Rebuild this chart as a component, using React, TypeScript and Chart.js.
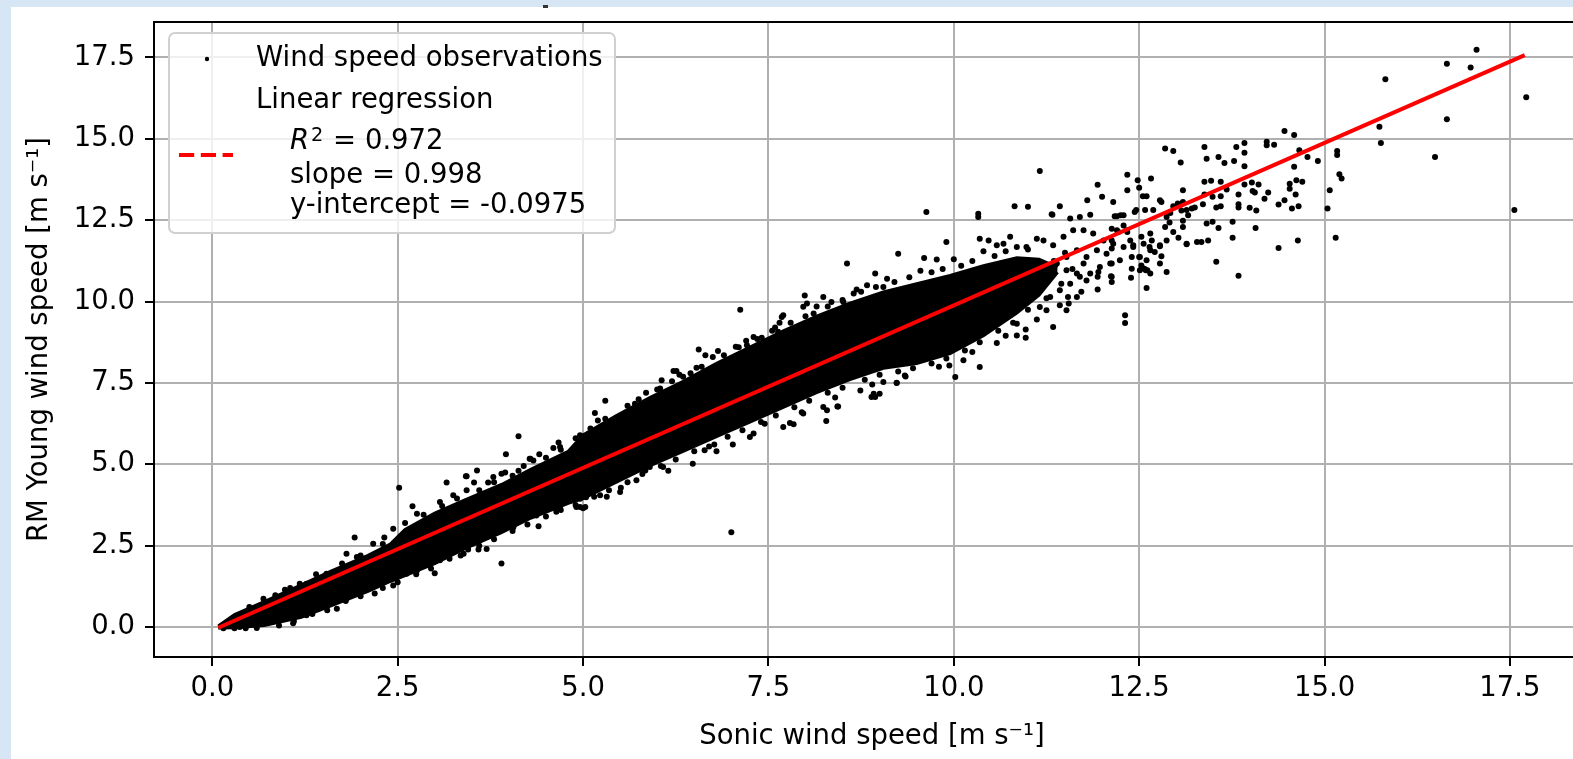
import React, { useEffect, useRef } from "react";
import { Chart, registerables } from "chart.js";

Chart.register(...registerables);

// ---------------- data ----------------
const xTicks = [0, 2.5, 5, 7.5, 10, 12.5, 15, 17.5];
const yTicks = [0, 2.5, 5, 7.5, 10, 12.5, 15, 17.5];

// dense core of the observation cloud (upper / lower envelope)
const bandX = [0.08, 0.3, 0.7, 1.2, 1.6, 2.1, 2.4, 2.6, 3.0, 3.4, 3.9, 4.3, 4.8, 5.0, 5.45, 5.9, 6.35, 6.8, 7.25, 7.7, 8.15, 8.6, 9.05, 9.5, 9.95, 10.4, 10.85, 11.15, 11.4];
const bandUpper = [0.03, 0.38, 0.78, 1.3, 1.72, 2.2, 2.55, 3.0, 3.5, 3.9, 4.38, 4.85, 5.4, 5.9, 6.5, 7.05, 7.55, 8.1, 8.6, 9.1, 9.55, 9.95, 10.3, 10.55, 10.8, 11.1, 11.35, 11.3, 11.05];
const bandLower = [-0.03, -0.02, 0.05, 0.3, 0.65, 1.1, 1.4, 1.58, 1.95, 2.4, 2.9, 3.35, 3.8, 3.95, 4.45, 4.95, 5.4, 5.85, 6.3, 6.75, 7.2, 7.6, 7.95, 8.1, 8.4, 8.95, 9.65, 10.2, 10.9];

// observations just outside the dense core (upper and lower fringe)
const fringeX = [
  0.5, 0.85, 1.05, 1.4, 1.75, 2.0, 2.3, 2.6, 2.85, 3.1, 3.3, 3.6, 3.8, 4.05, 4.2, 4.5, 4.7, 4.9, 5.1, 5.3, 5.6, 5.75, 6.0,
  6.2, 6.45, 6.6, 6.9, 7.1, 7.35, 7.55, 7.8, 8.0, 8.3, 8.5, 8.75, 8.95, 9.2, 9.4, 9.7, 9.85, 10.1, 10.25, 10.55, 10.7, 11.0,
  0.9, 1.1, 1.35, 1.55, 1.8, 2.0, 2.3, 2.5, 2.75, 2.95, 3.2, 3.35, 3.6, 3.8, 4.05, 4.25, 4.5, 4.7, 4.9, 5.15, 5.35, 5.6, 5.8,
  6.05, 6.25, 6.5, 6.7, 6.95, 7.15, 7.4, 7.6, 7.85, 8.05, 8.3, 8.5, 8.8, 9.0, 9.25, 9.45, 9.7, 9.9, 10.15, 10.35, 10.6, 10.8, 11.0,
  3.25, 3.95, 4.6, 5.2, 5.85, 6.3, 6.75, 7.2, 7.65, 8.15, 8.65, 9.1, 9.55, 10.0, 10.4,
  3.0, 3.7, 4.4, 5.0, 5.5, 6.15, 6.8, 7.3, 7.95, 8.4, 8.9, 9.35, 9.8, 10.25, 10.7,
  11.2, 11.35, 11.45, 11.6, 11.5, 11.25
];
const fringeY = [
  0.62, 0.98, 1.2, 1.62, 1.95, 2.2, 2.55, 3.2, 3.45, 3.72, 3.95, 4.2, 4.45, 4.65, 4.95, 5.2, 5.45, 5.8, 6.1, 6.4, 6.8, 7.0, 7.3,
  7.55, 7.8, 8.0, 8.35, 8.6, 8.85, 9.1, 9.35, 9.55, 9.85, 10.05, 10.3, 10.45, 10.6, 10.75, 10.9, 11.0, 11.1, 11.25, 11.4, 11.55, 11.6,
  0.05, 0.18, 0.4, 0.52, 0.8, 0.95, 1.2, 1.38, 1.62, 1.8, 2.1, 2.2, 2.5, 2.7, 2.95, 3.15, 3.4, 3.6, 3.75, 4.0, 4.2, 4.45, 4.7,
  4.95, 5.15, 5.4, 5.55, 5.85, 6.05, 6.3, 6.5, 6.75, 6.95, 7.2, 7.35, 7.6, 7.75, 7.85, 7.95, 8.1, 8.25, 8.5, 8.75, 9.1, 9.35, 9.75,
  4.05, 4.75, 5.5, 6.35, 7.2, 7.75, 8.3, 8.8, 9.35, 9.85, 10.25, 10.7, 10.95, 11.3, 11.55,
  1.65, 2.4, 3.1, 3.65, 4.15, 4.8, 5.4, 5.95, 6.6, 7.05, 7.45, 7.7, 8.0, 8.45, 8.95,
  10.75, 11.25, 10.55, 11.0, 11.5, 10.1
];

// individual scattered observations
const obsX = [
  17.05, 16.65, 16.97, 15.82, 17.72, 16.65, 15.74, 15.76, 16.49, 17.56, 14.46, 14.59, 15.17, 15.17, 15.20, 15.23, 15.07, 15.04, 15.15, 14.91,
  14.77, 14.66, 14.59, 14.53, 14.53, 14.62, 14.70, 14.61, 14.65, 14.56, 14.46, 14.38, 14.64, 14.38, 14.22, 14.22, 14.32, 13.92, 13.92, 13.92,
  13.81, 13.78, 13.65, 13.57, 13.38, 13.41, 12.85, 12.96, 13.06, 12.66, 12.34, 12.48, 12.50, 11.94, 12.00, 11.80, 11.43, 11.33, 12.34, 12.15,
  12.55, 12.60, 13.09, 13.38, 13.47, 13.60, 13.60, 13.49, 13.84, 13.92, 14.02, 14.11, 14.03, 14.06, 14.19, 14.24, 13.84, 13.84, 13.99, 14.08,
  13.68, 13.36, 13.38, 13.09, 13.07, 13.54, 13.60, 13.21, 13.16, 12.96, 13.02, 12.78, 12.80, 13.41, 13.49, 13.76, 13.76, 13.57, 14.07, 13.43,
  13.28, 13.34, 13.14, 13.03, 12.96, 12.85, 12.87, 12.91, 13.09, 13.09, 13.54, 13.84, 12.87, 12.60, 12.31, 12.31, 12.65, 12.67, 12.64, 12.78,
  12.71, 12.80, 12.60, 12.57, 12.61, 12.40, 12.39, 12.50, 12.53, 12.42, 12.38, 12.34, 12.46, 12.25, 12.17, 12.29, 12.13, 12.22, 12.13, 12.13,
  12.13, 12.13, 12.13, 11.94, 11.72, 11.54, 11.52, 11.66, 11.79, 11.94, 11.84, 11.70, 11.57, 11.16, 9.63, 10.33, 10.33, 10.82, 11.00, 11.32,
  12.20, 12.29, 12.44, 12.58, 12.69, 12.92, 13.14, 13.25, 13.14, 12.12, 11.95, 12.51, 12.53, 12.59, 12.40, 11.66, 11.55, 11.43, 11.34, 11.12,
  11.25, 10.85, 10.85, 10.97, 10.97, 10.58, 10.35, 10.02, 9.94, 10.13, 9.23, 9.34, 8.92, 8.89, 8.43, 8.28, 7.84, 8.56, 9.25, 9.60,
  9.77, 9.90, 8.94, 7.99, 8.02, 7.68, 8.11, 8.35, 8.51, 10.35, 10.47, 10.58, 10.67, 10.76, 10.85, 10.98, 11.12, 11.21, 11.34, 11.48,
  11.61, 11.75, 11.88, 12.02, 12.15, 12.29, 12.42, 12.56, 12.65, 12.78, 12.87, 10.40, 10.49, 10.62, 10.76, 10.85, 10.98, 11.07, 11.16, 11.30,
  11.43, 11.57, 11.70, 11.84, 11.97, 12.11, 12.24, 12.51, 12.65, 12.78, 10.67, 10.85, 11.07, 11.21, 11.39, 11.52, 11.66, 11.79, 11.93, 12.06,
  12.20, 12.33, 11.52, 11.75, 11.30, 7.12, 7.59, 7.63, 7.06, 7.21, 7.30, 7.41, 6.56, 6.65, 6.82, 6.22, 6.26, 6.53, 6.06, 5.30,
  5.16, 4.13, 3.96, 3.57, 3.43, 4.29, 4.41, 4.67, 7.79, 8.44, 8.24, 8.94, 9.05, 9.23, 7.02, 6.64, 6.77, 6.48, 5.90, 5.84,
  5.51, 5.03, 5.03, 7.45, 7.97, 5.70, 6.04, 6.35, 7.70, 7.97, 8.24, 8.69, 8.83, 9.05, 4.91, 5.32, 5.72, 6.08, 7.25, 7.70,
  8.29, 8.74, 9.00, 4.28, 3.42, 3.53, 3.16, 3.72, 3.90, 4.13, 2.52, 2.70, 1.92, 2.32, 1.81, 1.18, 0.98, 0.69, 3.90, 3.45,
  3.59, 1.09, 4.96, 4.64, 5.04, 2.19, 2.44, 1.68, 1.43, 1.27, 1.54, 1.81, 2.62, 2.98, 3.25, 0.87, 0.55, 0.37, 0.60, 2.76,
  3.07, 3.39, 3.70, 4.06, 4.37, 4.69, 4.96, 5.23, 0.42, 0.73, 1.00, 1.27, 1.54, 1.95, 2.17, 2.44, 2.76, 3.07, 3.43, 3.79,
  4.33, 4.69, 4.96, 0.15, 0.30, 0.45, 7.00
];
const obsY = [
  17.74, 17.31, 17.19, 16.83, 16.28, 15.60, 15.37, 14.87, 14.44, 12.81, 15.24, 15.12, 14.63, 14.50, 13.91, 13.78, 13.42, 12.86, 11.96, 14.32,
  14.44, 14.65, 14.14, 13.62, 13.47, 13.73, 13.68, 13.29, 12.93, 12.86, 13.11, 12.98, 11.88, 11.65, 14.91, 14.80, 14.82, 14.87, 14.57, 14.16,
  14.75, 14.32, 14.26, 14.44, 14.75, 14.39, 14.70, 14.63, 14.27, 13.78, 13.90, 13.73, 13.50, 13.59, 13.22, 13.11, 12.93, 12.67, 13.42, 13.06,
  13.24, 13.24, 13.42, 13.68, 13.71, 13.68, 13.24, 13.22, 13.29, 13.60, 13.66, 13.60, 13.40, 13.35, 13.16, 13.35, 12.99, 12.89, 12.88, 12.80,
  13.44, 12.99, 13.29, 13.06, 12.80, 12.89, 12.93, 12.86, 12.65, 12.93, 13.01, 13.11, 13.06, 12.40, 12.45, 12.45, 11.96, 12.26, 12.26, 11.88,
  11.83, 11.83, 11.76, 11.96, 12.14, 12.29, 12.60, 12.43, 12.29, 12.48, 11.22, 10.79, 10.91, 10.42, 9.58, 9.34, 12.09, 11.88, 11.68, 11.70,
  11.52, 11.39, 11.27, 11.01, 10.96, 11.01, 10.73, 11.37, 11.99, 11.68, 11.88, 12.14, 12.81, 12.65, 12.62, 12.34, 12.24, 12.14, 11.88, 11.63,
  11.17, 10.76, 10.60, 10.37, 10.30, 10.14, 9.73, 10.86, 10.65, 10.76, 12.67, 12.60, 12.55, 14.01, 12.75, 12.70, 12.60, 12.93, 12.91, 12.68,
  12.62, 12.65, 12.75, 12.81, 12.81, 12.72, 12.81, 12.89, 11.78, 10.78, 10.91, 11.37, 11.11, 10.96, 11.37, 10.14, 9.94, 9.89, 9.22, 9.45,
  9.73, 9.32, 8.96, 9.14, 8.89, 8.73, 7.99, 7.68, 8.04, 8.20, 7.51, 7.73, 7.17, 7.07, 6.78, 6.33, 6.23, 11.17, 11.47, 11.34,
  11.29, 11.83, 10.86, 10.19, 9.94, 9.53, 9.63, 9.99, 9.99, 11.93, 11.88, 11.73, 11.78, 11.99, 11.68, 11.68, 11.93, 11.88, 11.73, 11.99,
  12.19, 12.19, 12.09, 11.88, 11.78, 11.68, 11.73, 11.78, 11.58, 11.73, 11.88, 10.65, 10.14, 10.35, 9.94, 10.14, 10.45, 10.14, 9.83, 10.14,
  10.35, 10.55, 10.76, 10.86, 11.06, 11.17, 11.27, 10.96, 10.86, 11.17, 10.96, 10.96, 11.17, 10.96, 11.17, 11.37, 11.58, 11.37, 11.58, 11.47,
  12.19, 12.19, 10.96, 11.17, 10.76, 9.75, 9.20, 9.07, 8.61, 8.66, 8.91, 8.89, 8.53, 8.35, 8.48, 7.87, 7.87, 7.97, 7.58, 6.95,
  6.58, 5.86, 5.31, 4.81, 4.63, 5.17, 5.31, 5.67, 6.27, 6.78, 6.76, 7.07, 7.53, 7.50, 5.61, 5.43, 5.61, 5.02, 4.92, 4.81,
  4.28, 4.00, 3.69, 6.25, 6.56, 6.86, 7.33, 7.69, 9.58, 9.84, 10.14, 10.37, 10.50, 10.45, 3.69, 4.00, 4.51, 4.92, 5.84, 6.15,
  6.66, 7.27, 7.17, 5.17, 4.63, 4.44, 4.44, 4.44, 4.71, 4.80, 4.28, 3.71, 2.75, 2.75, 2.25, 1.33, 1.15, 0.87, 1.95, 2.38,
  2.38, 0.12, 3.69, 3.54, 3.99, 1.03, 1.28, 0.56, 0.56, 0.36, 0.82, 0.87, 1.64, 2.00, 2.30, 0.21, 0.10, 0.00, -0.03, 1.74,
  2.05, 2.25, 2.77, 3.07, 3.43, 3.69, 3.94, 4.05, 0.31, 0.67, 0.92, 1.33, 1.64, 2.15, 2.56, 3.02, 3.48, 3.84, 4.20, 4.61,
  5.12, 5.53, 5.89, -0.04, -0.04, -0.04, 2.91
];

// regression line end points
const regLineX = [0.08, 17.7];
const regLineY = [-0.02, 17.57];

const xAxisTitle = "Sonic wind speed [m s\u207B\u00B9]";
const yAxisTitle = "RM Young wind speed [m s\u207B\u00B9]";
const legendObsLabel = "Wind speed observations";
const legendRegLabel = "Linear regression";
const legendR2Value = " = 0.972";
const legendSlopeLine = "slope = 0.998";
const legendInterceptLine = "y-intercept = -0.0975";

// ---------------- helpers ----------------
const FONT = '"DejaVu Sans"';
const FS = 27.5;

const frameAndLegend = {
  id: "frameAndLegend",
  afterDraw(chart: any) {
    const { ctx, chartArea } = chart;
    ctx.save();
    // top / right spines
    ctx.strokeStyle = "#000";
    ctx.lineWidth = 2;
    ctx.beginPath();
    ctx.moveTo(chartArea.left - 1, chartArea.top);
    ctx.lineTo(chartArea.right + 1, chartArea.top);
    ctx.stroke();
    ctx.beginPath();
    ctx.moveTo(chartArea.right, chartArea.top);
    ctx.lineTo(chartArea.right, chartArea.bottom);
    ctx.stroke();

    // legend box
    const bx = chartArea.left + 15;
    const by = chartArea.top + 11;
    const bw = 446;
    const bh = 200;
    ctx.beginPath();
    (ctx as any).roundRect(bx, by, bw, bh, 6);
    ctx.fillStyle = "rgba(255,255,255,0.8)";
    ctx.fill();
    ctx.strokeStyle = "#d0d0d0";
    ctx.lineWidth = 2;
    ctx.stroke();

    // marker handle
    ctx.fillStyle = "#000";
    ctx.beginPath();
    ctx.arc(bx + 38, by + 26, 2.2, 0, Math.PI * 2);
    ctx.fill();

    // dashed line handle
    ctx.strokeStyle = "#ff0000";
    ctx.lineWidth = 4;
    ctx.setLineDash([15.2, 6.6]);
    ctx.beginPath();
    ctx.moveTo(bx + 10, by + 122);
    ctx.lineTo(bx + 64, by + 122);
    ctx.stroke();
    ctx.setLineDash([]);

    // texts
    ctx.fillStyle = "#000";
    ctx.textBaseline = "alphabetic";
    ctx.textAlign = "left";
    ctx.font = `${FS}px ${FONT}`;
    const tx = bx + 87;
    ctx.fillText(legendObsLabel, tx, by + 32.7);
    ctx.fillText(legendRegLabel, tx, by + 75.3);
    const ix = tx + 34;
    ctx.font = `italic ${FS}px ${FONT}`;
    ctx.fillText("R", ix, by + 116.3);
    const rw = ctx.measureText("R").width;
    ctx.font = `${FS * 0.7}px ${FONT}`;
    ctx.fillText("2", ix + rw + 2, by + 107.5);
    const sw = ctx.measureText("2").width;
    ctx.font = `${FS}px ${FONT}`;
    ctx.fillText(legendR2Value, ix + rw + 2 + sw + 1, by + 116.3);
    ctx.fillText(legendSlopeLine, ix, by + 150.3);
    ctx.fillText(legendInterceptLine, ix, by + 180.3);
    ctx.restore();
  },
};

export default function App() {
  const ref = useRef<HTMLCanvasElement>(null);
  useEffect(() => {
    document.body.style.margin = "0";
    const canvas = ref.current!;
    const band = (ys: number[]) => bandX.map((x, i) => ({ x, y: ys[i] }));
    const dotStyle = {
      pointRadius: 3,
      pointBorderWidth: 0,
      backgroundColor: "#000",
      borderColor: "#000",
    };
    const chart = new Chart(canvas, {
      type: "scatter",
      data: {
        datasets: [
          {
            label: "Linear regression",
            data: regLineX.map((x, i) => ({ x, y: regLineY[i] })),
            showLine: true,
            borderColor: "#ff0000",
            borderWidth: 4,
            pointRadius: 0,
            fill: false,
          } as any,
          {
            label: "Wind speed observations",
            data: obsX.map((x, i) => ({ x, y: obsY[i] })),
            ...dotStyle,
          },
          {
            label: "fringe",
            data: fringeX.map((x, i) => ({ x, y: fringeY[i] })),
            ...dotStyle,
          },
          {
            label: "core-upper",
            data: band(bandUpper),
            showLine: true,
            borderColor: "#000",
            borderWidth: 3,
            backgroundColor: "#000",
            pointRadius: 0,
            fill: "+1",
          } as any,
          {
            label: "core-lower",
            data: band(bandLower),
            showLine: true,
            borderColor: "#000",
            borderWidth: 3,
            pointRadius: 0,
            fill: false,
          } as any,
        ],
      },
      options: {
        responsive: false,
        animation: false,
        devicePixelRatio: 1,
        events: [],
        layout: { padding: { top: 15, right: 21, bottom: 0, left: 0 } },
        plugins: { legend: { display: false }, tooltip: { enabled: false } },
        scales: {
          x: {
            type: "linear",
            min: -0.786,
            max: 18.58,
            afterBuildTicks: (s: any) => {
              s.ticks = xTicks.map((v) => ({ value: v }));
            },
            afterFit: (s: any) => {
              s.height = 102;
              s.paddingLeft = 0;
              s.paddingRight = 0;
            },
            ticks: {
              color: "#000",
              padding: 6,
              maxRotation: 0,
              font: { family: "DejaVu Sans", size: FS },
              callback: (v: any) => Number(v).toFixed(1),
            },
            grid: { color: "#b0b0b0", lineWidth: 2, tickColor: "#000", tickWidth: 2, tickLength: 9 },
            border: { color: "#000", width: 2 },
            title: {
              display: true,
              text: xAxisTitle,
              color: "#000",
              font: { family: "DejaVu Sans", size: FS },
              padding: { top: 0, bottom: 6 },
            },
          },
          y: {
            type: "linear",
            min: -0.92,
            max: 18.59,
            afterBuildTicks: (s: any) => {
              s.ticks = yTicks.map((v) => ({ value: v }));
            },
            afterFit: (s: any) => {
              s.width = 143;
              s.paddingTop = 0;
              s.paddingBottom = 0;
            },
            ticks: {
              color: "#000",
              padding: 10,
              font: { family: "DejaVu Sans", size: FS },
              callback: (v: any) => Number(v).toFixed(1),
            },
            grid: { color: "#b0b0b0", lineWidth: 2, tickColor: "#000", tickWidth: 2, tickLength: 9 },
            border: { color: "#000", width: 2 },
            title: {
              display: true,
              text: yAxisTitle,
              color: "#000",
              font: { family: "DejaVu Sans", size: FS },
              padding: { top: 12.5, bottom: 0 },
            },
          },
        },
      },
      plugins: [frameAndLegend],
    });
    return () => chart.destroy();
  }, []);

  return (
    <div
      style={{
        position: "fixed",
        left: 0,
        top: 0,
        width: "100vw",
        height: "100vh",
        background: "#d7e6f4",
        overflow: "hidden",
      }}
    >
      <div
        style={{
          position: "absolute",
          left: 11,
          top: 7,
          width: 1600,
          height: 752,
          background: "#ffffff",
          overflow: "hidden",
        }}
      >
        <canvas ref={ref} width={1600} height={752} style={{ display: "block", width: 1600, height: 752 }} />
      </div>
      <div style={{ position: "absolute", left: 543, top: 5, width: 5, height: 3, background: "#333" }} />
    </div>
  );
}
